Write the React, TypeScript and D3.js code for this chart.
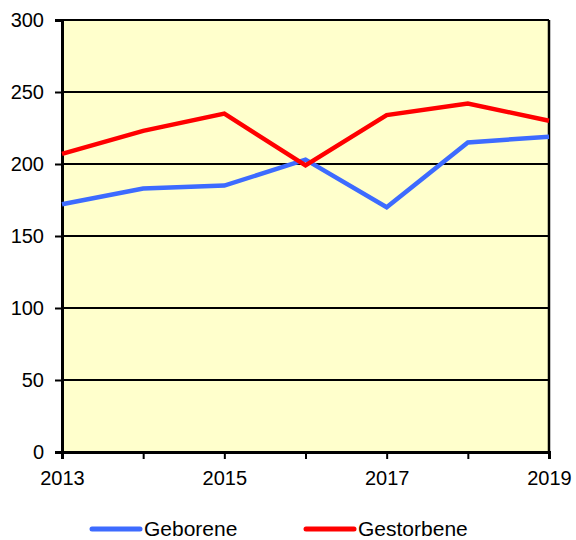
import * as d3 from "d3";
import { useEffect, useRef } from "react";

const years = [2013, 2014, 2015, 2016, 2017, 2018, 2019];
const geborene = [172, 183, 185, 203, 170, 215, 219];
const gestorbene = [207, 223, 235, 199, 234, 242, 230];
const xTickLabels = [2013, 2015, 2017, 2019];
const yTicks = [0, 50, 100, 150, 200, 250, 300];

const series = [
  { name: "Geborene", values: geborene, color: "#3d6bff" },
  { name: "Gestorbene", values: gestorbene, color: "#ff0000" },
];

export default function App() {
  const svgRef = useRef<SVGSVGElement | null>(null);

  useEffect(() => {
    document.body.style.margin = "0";
    if (!svgRef.current) return;

    const width = 576;
    const height = 540;
    const margin = { top: 20, right: 27, bottom: 88, left: 62 };
    const font = "'Liberation Sans', Arial, sans-serif";

    d3.select(svgRef.current).selectAll("*").remove();
    const svg = d3.select(svgRef.current).attr("width", width).attr("height", height);

    const x = d3
      .scaleLinear()
      .domain([2013, 2019])
      .range([margin.left, width - margin.right]);

    const y = d3
      .scaleLinear()
      .domain([0, 300])
      .range([height - margin.bottom, margin.top]);

    // Plot background
    svg
      .append("rect")
      .attr("x", margin.left)
      .attr("y", margin.top)
      .attr("width", width - margin.left - margin.right)
      .attr("height", height - margin.top - margin.bottom)
      .attr("fill", "#ffffcc");

    // Gridlines
    svg
      .append("g")
      .selectAll("line")
      .data(yTicks)
      .join("line")
      .attr("x1", margin.left)
      .attr("x2", width - margin.right)
      .attr("y1", (d) => y(d))
      .attr("y2", (d) => y(d))
      .attr("stroke", "#000")
      .attr("stroke-width", 2);

    // Right border
    svg
      .append("line")
      .attr("x1", width - margin.right)
      .attr("x2", width - margin.right)
      .attr("y1", margin.top)
      .attr("y2", height - margin.bottom)
      .attr("stroke", "#000")
      .attr("stroke-width", 2.5);

    // Y axis
    const yAxis = svg
      .append("g")
      .attr("transform", `translate(${margin.left},0)`)
      .call(d3.axisLeft(y).tickValues(yTicks).tickSize(7).tickPadding(11));
    yAxis.attr("font-family", font).attr("font-size", 20);
    yAxis.select(".domain").attr("stroke-width", 3);
    yAxis.selectAll(".tick line").attr("stroke-width", 2);
    yAxis.selectAll("text").attr("fill", "#000");

    // X axis
    const xAxis = svg
      .append("g")
      .attr("transform", `translate(0,${height - margin.bottom})`)
      .call(
        d3
          .axisBottom(x)
          .tickValues(years)
          .tickSize(7)
          .tickPadding(12)
          .tickFormat((d) => (xTickLabels.includes(Number(d)) ? String(d) : "")),
      );
    xAxis.attr("font-family", font).attr("font-size", 20);
    xAxis.select(".domain").attr("stroke-width", 3);
    xAxis.selectAll(".tick line").attr("stroke-width", 2);
    xAxis.selectAll("text").attr("fill", "#000");

    // Lines
    const line = d3
      .line<number>()
      .x((_, i) => x(years[i]))
      .y((d) => y(d));

    series.forEach((s) => {
      svg
        .append("path")
        .datum(s.values)
        .attr("fill", "none")
        .attr("stroke", s.color)
        .attr("stroke-width", 4.5)
        .attr("stroke-linejoin", "miter")
        .attr("d", line);
    });

    // Legend
    const legendX = [92, 306];
    const legend = svg
      .append("g")
      .selectAll("g")
      .data(series)
      .join("g")
      .attr("transform", (_, i) => `translate(${legendX[i]},529)`);
    legend
      .append("line")
      .attr("x1", 0)
      .attr("x2", 48)
      .attr("stroke", (d) => d.color)
      .attr("stroke-width", 5)
      .attr("stroke-linecap", "round");
    legend
      .append("text")
      .attr("x", 52)
      .attr("y", 7)
      .attr("font-family", font)
      .attr("font-size", 21)
      .attr("fill", "#000")
      .text((d) => d.name);
  }, []);

  return <svg ref={svgRef} style={{ display: "block" }} />;
}
